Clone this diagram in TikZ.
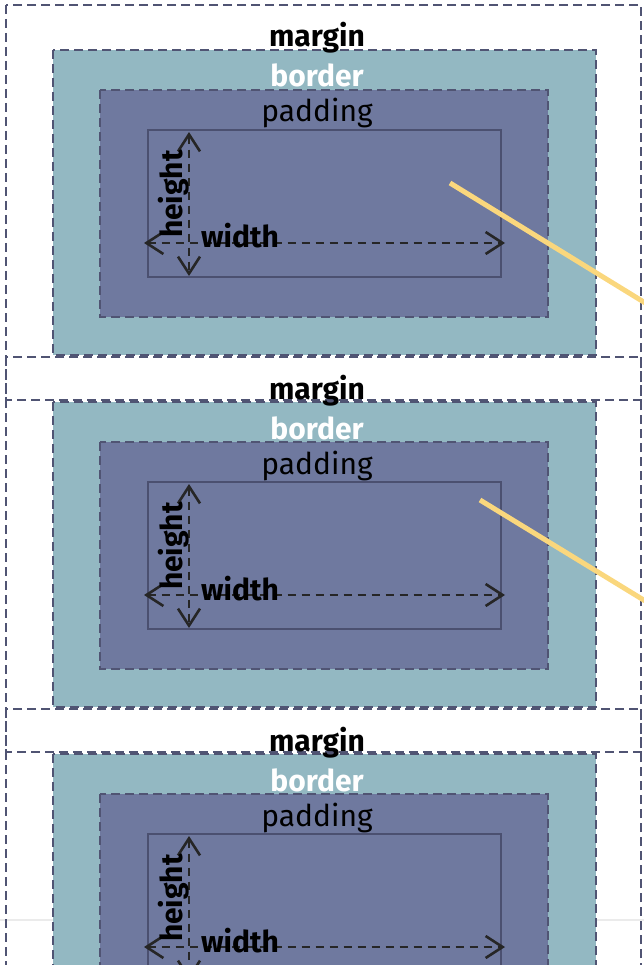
\documentclass[tikz,border=0pt]{standalone}
\usepackage{fontspec}
\setmainfont{Fira Sans}
\usetikzlibrary{arrows.meta}
\definecolor{edgeblue}{RGB}{80,84,115}
\definecolor{borderteal}{RGB}{147,184,194}
\definecolor{paddingblue}{RGB}{111,121,159}
\definecolor{contentline}{RGB}{75,80,112}
\definecolor{pointer}{RGB}{250,215,125}

\begin{document}
\begin{tikzpicture}[x=1pt, y=-1pt, >={Straight Barb[length=17pt,width=22pt]},
  boxedge/.style={draw=edgeblue, line width=2.8pt, dash pattern=on 9pt off 5pt},
  dimline/.style={draw=black!85, line width=2.6pt, dash pattern=on 8pt off 6pt, <->},
  thinlabel/.style={inner sep=0pt, anchor=base, font=\fontsize{30}{36}\selectfont},
  boldlabel/.style={inner sep=0pt, anchor=base, font=\fontsize{30}{36}\selectfont\bfseries}]
\useasboundingbox (0,0) rectangle (644,965);
\clip (0,0) rectangle (644,965);
\draw[black!8, line width=2pt] (0,920) -- (644,920);
%
\foreach \i in {0,1,2} {
\begin{scope}[shift={(0,352*\i)}]
\fill[borderteal] (53,50) rectangle (596,355);
\fill[paddingblue] (100,90) rectangle (548,317);
\draw[contentline, line width=2.3pt] (148,130) rectangle (501,277);
\draw[boxedge] (6,5) rectangle (641,400);
\draw[boxedge] (53,50) rectangle (596,355);
\draw[boxedge] (100,90) rectangle (548,317);
%
\coordinate (hTop\i) at (189,132);
\coordinate (hBot\i) at (189,276);
\coordinate (wLeft\i) at (144,243);
\coordinate (wRight\i) at (505,243);
\draw[dimline] (hTop\i) -- (hBot\i);
\draw[dimline] (wLeft\i) -- (wRight\i);
%
\node[boldlabel] (margin\i) at (317,47) {margin};
\node[boldlabel, text=white] (border\i) at (317,87) {border};
\node[thinlabel] (padding\i) at (317,122) {padding};
\node[boldlabel, rotate=90] (height\i) at (182,194) {height};
\node[boldlabel] (width\i) at (240,248) {width};
\end{scope}
}
%
\draw[pointer, line width=5pt] (450,183) -- (660,312);
\draw[pointer, line width=5pt] (480,500) -- (660,610);
\end{tikzpicture}
\end{document}
